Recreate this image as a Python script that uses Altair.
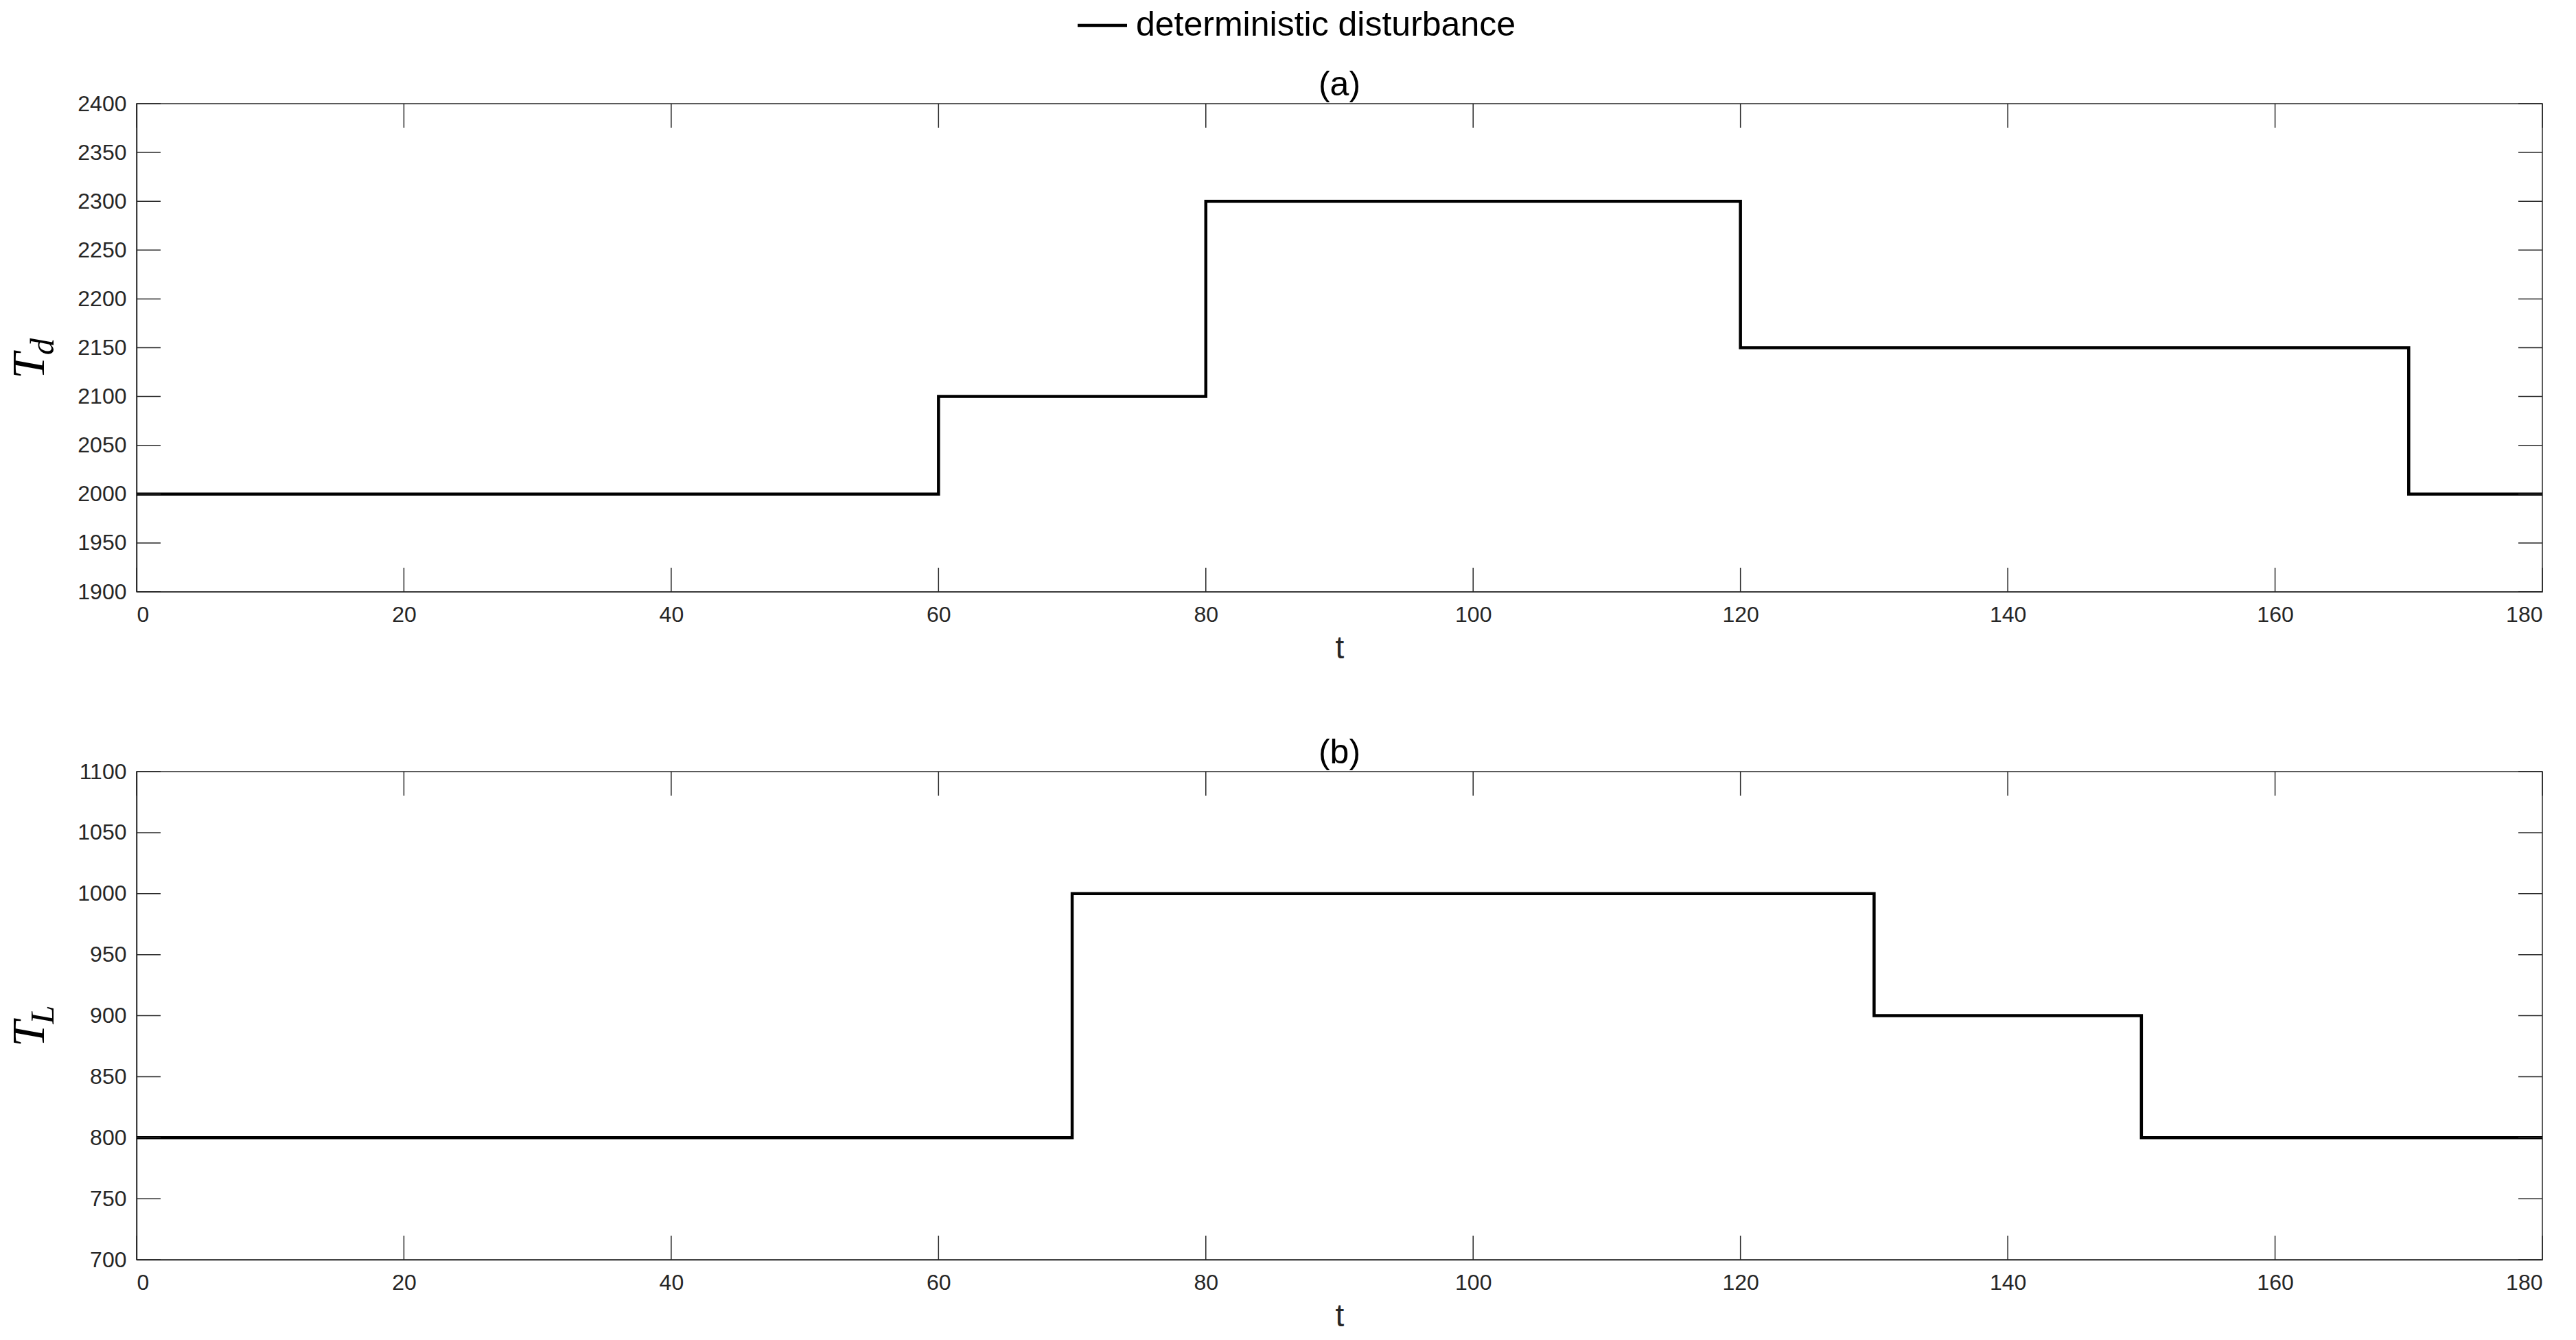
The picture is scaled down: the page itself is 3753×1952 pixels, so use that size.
import altair as alt
import pandas as pd

# ---- data ----
t_a = [0, 60, 80, 120, 170, 180]
Td = [2000, 2100, 2300, 2150, 2000, 2000]
t_b = [0, 70, 130, 150, 180]
TL = [800, 1000, 900, 800, 800]
x_ticks = [0, 20, 40, 60, 80, 100, 120, 140, 160, 180]
ya_ticks = [1900, 1950, 2000, 2050, 2100, 2150, 2200, 2250, 2300, 2350, 2400]
yb_ticks = [700, 750, 800, 850, 900, 950, 1000, 1050, 1100]
series_name = "deterministic disturbance"
panel_titles = ["(a)", "(b)"]
subscripts = ["d", "L"]

# ---- style ----
W, H = 3505, 711
TICK = 35
AX = "#262626"
FONT = "Liberation Sans"
SERIF = "Liberation Serif"


def panel(t, v, yt, ydom, title, sub, legend):
    df = pd.DataFrame({"t": t, "v": v, "s": [series_name] * len(t)})
    xs = alt.Scale(domain=[0, 180], nice=False, zero=False)
    ys = alt.Scale(domain=ydom, nice=False, zero=False)
    xax = alt.Axis(values=x_ticks, title="t", format="d", labelPadding=33,
                   labelBaseline="middle", titleY=82,
                   titleBaseline="middle", titleFontSize=46)
    yax = alt.Axis(values=yt, title=None, format="d", labelPadding=15)

    line = alt.Chart(df).mark_line(interpolate="step-after", strokeWidth=4.5).encode(
        x=alt.X("t:Q", scale=xs, axis=xax),
        y=alt.Y("v:Q", scale=ys, axis=yax),
        color=alt.Color("s:N",
                        scale=alt.Scale(domain=[series_name], range=["#000000"]),
                        legend=legend),
    )

    xdf = pd.DataFrame({"t": x_ticks})
    ydf = pd.DataFrame({"v": yt})
    xb = alt.Chart(xdf).mark_rule(color=AX, strokeWidth=1.5).encode(
        x=alt.X("t:Q", scale=xs, axis=xax), y=alt.value(H), y2=alt.value(H - TICK))
    xtp = alt.Chart(xdf).mark_rule(color=AX, strokeWidth=1.5).encode(
        x=alt.X("t:Q", scale=xs, axis=xax), y=alt.value(0), y2=alt.value(TICK))
    yl = alt.Chart(ydf).mark_rule(color=AX, strokeWidth=1.5).encode(
        y=alt.Y("v:Q", scale=ys, axis=yax), x=alt.value(0), x2=alt.value(TICK))
    yr = alt.Chart(ydf).mark_rule(color=AX, strokeWidth=1.5).encode(
        y=alt.Y("v:Q", scale=ys, axis=yax), x=alt.value(W - TICK), x2=alt.value(W))

    big = alt.Chart(pd.DataFrame({"lab": ["T"]})).mark_text(
        font=SERIF, fontStyle="italic", fontSize=68, angle=270,
        align="center", baseline="middle", color="#000000").encode(
        text="lab:N", x=alt.value(-155), y=alt.value(382))
    small = alt.Chart(pd.DataFrame({"lab": [sub]})).mark_text(
        font=SERIF, fontStyle="italic", fontSize=49, angle=270,
        align="center", baseline="middle", color="#000000").encode(
        text="lab:N", x=alt.value(-136), y=alt.value(354))
    ttl = alt.Chart(pd.DataFrame({"lab": [title]})).mark_text(
        font=FONT, fontSize=50, align="center", baseline="alphabetic",
        color="#000000").encode(
        text="lab:N", x=alt.value(W / 2), y=alt.value(-12))

    layers = [line, xb, xtp, yl, yr, big, small, ttl]
    if legend is not None:
        anchor = alt.Chart(pd.DataFrame({"a": [0]})).mark_rule(
            opacity=0, strokeWidth=0.01).encode(
            x=alt.value(-190), x2=alt.value(-189),
            y=alt.value(-142), y2=alt.value(-141))
        layers.append(anchor)

    return alt.layer(*layers).properties(width=W, height=H)


leg = alt.Legend(title=None, orient="none", legendX=1382, legendY=-139,
                 symbolType="M-2,0H2", symbolSize=1296, symbolStrokeWidth=4.5,
                 labelFontSize=50, labelFont=FONT, labelColor="#000000",
                 labelOffset=24, labelLimit=2000, padding=0)

pa = panel(t_a, Td, ya_ticks, [1900, 2400], panel_titles[0], subscripts[0], leg)
pb = panel(t_b, TL, yb_ticks, [700, 1100], panel_titles[1], subscripts[1], None)

chart = alt.vconcat(pa, pb, spacing=262, bounds="flush").properties(
    padding=0
).configure_view(
    stroke=AX, strokeWidth=1.5
).configure_axis(
    domainColor=AX, domainWidth=1.5, ticks=False, tickSize=0, grid=False,
    labelFont=FONT, labelFontSize=32, labelColor=AX,
    titleFont=FONT, titleColor=AX, titleFontWeight="normal",
)

chart.save("out.html", embed_options={"renderer": "svg", "actions": False})
